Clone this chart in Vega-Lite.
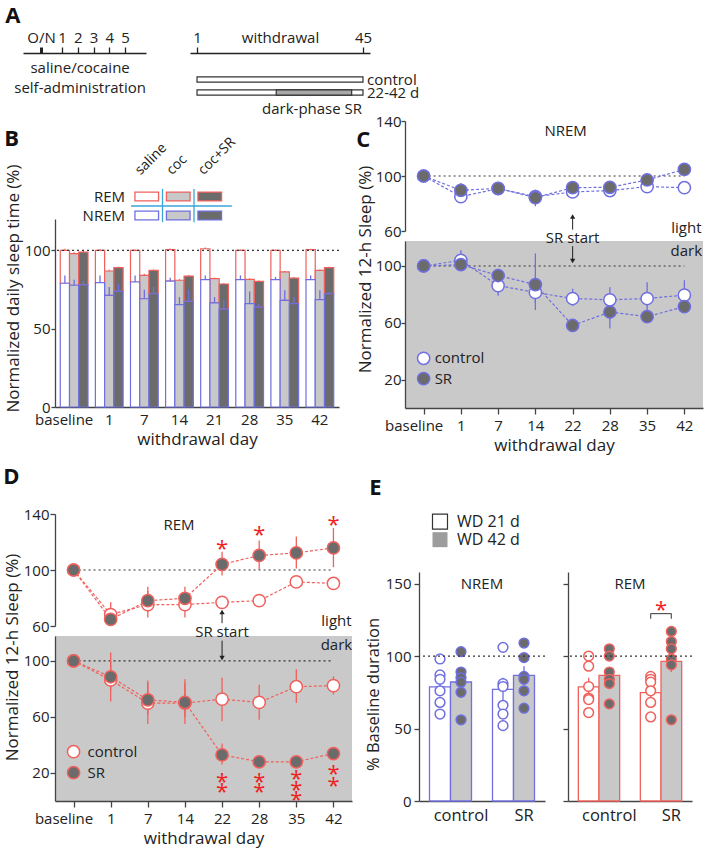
{
  "$schema": "https://vega.github.io/schema/vega-lite/v6.json",
  "background": "white",
  "padding": {"left": 3, "top": 5, "right": 2, "bottom": 2},
  "config": {
    "font": "Open Sans",
    "view": {"stroke": null},
    "axis": {"labelFont": "Open Sans", "titleFont": "Open Sans", "labelFontSize": 15, "titleFontSize": 17, "titleFontWeight": "normal", "labelColor": "#222", "titleColor": "#222", "domainColor": "#444", "tickColor": "#444", "domainWidth": 1.3, "tickWidth": 1.3, "tickSize": 5, "grid": false, "labelPadding": 3, "titlePadding": 4},
    "title": {"font": "Open Sans", "fontSize": 22, "fontWeight": "bold", "anchor": "start", "color": "#111"},
    "text": {"font": "Open Sans", "fontSize": 15, "color": "#222"}
  },
  "datasets": {
    "b": [
      {"day":"baseline","trt":"saline","nrem":79,"nrem_hi":84,"tot":100,"tot_hi":101},
      {"day":"baseline","trt":"coc","nrem":77.7,"nrem_hi":81.3,"tot":97.9,"tot_hi":98.7},
      {"day":"baseline","trt":"coc+SR","nrem":78,"nrem_hi":80.6,"tot":98.9,"tot_hi":99.6},
      {"day":"1","trt":"saline","nrem":79.4,"nrem_hi":84,"tot":100,"tot_hi":100.8},
      {"day":"1","trt":"coc","nrem":71.3,"nrem_hi":76.6,"tot":86.8,"tot_hi":87.6},
      {"day":"1","trt":"coc+SR","nrem":73.8,"nrem_hi":78.7,"tot":88.9,"tot_hi":89.6},
      {"day":"7","trt":"saline","nrem":79.8,"nrem_hi":84,"tot":100,"tot_hi":100.6},
      {"day":"7","trt":"coc","nrem":69.1,"nrem_hi":74.9,"tot":84,"tot_hi":85},
      {"day":"7","trt":"coc+SR","nrem":72.3,"nrem_hi":76.6,"tot":87.2,"tot_hi":87.8},
      {"day":"14","trt":"saline","nrem":80.4,"nrem_hi":82.5,"tot":100.4,"tot_hi":101.2},
      {"day":"14","trt":"coc","nrem":65.3,"nrem_hi":70.2,"tot":80.9,"tot_hi":81.6},
      {"day":"14","trt":"coc+SR","nrem":67.4,"nrem_hi":74.9,"tot":83.6,"tot_hi":84.2},
      {"day":"21","trt":"saline","nrem":81.3,"nrem_hi":84,"tot":101,"tot_hi":101.8},
      {"day":"21","trt":"coc","nrem":66.4,"nrem_hi":70.2,"tot":81.9,"tot_hi":82.6},
      {"day":"21","trt":"coc+SR","nrem":62.5,"nrem_hi":68.1,"tot":78.5,"tot_hi":79},
      {"day":"28","trt":"saline","nrem":81.3,"nrem_hi":84,"tot":100,"tot_hi":100.6},
      {"day":"28","trt":"coc","nrem":66,"nrem_hi":73.8,"tot":81.5,"tot_hi":82.2},
      {"day":"28","trt":"coc+SR","nrem":63.8,"nrem_hi":66,"tot":80.2,"tot_hi":80.8},
      {"day":"35","trt":"saline","nrem":81.3,"nrem_hi":83,"tot":100,"tot_hi":100.5},
      {"day":"35","trt":"coc","nrem":68.1,"nrem_hi":74.5,"tot":86.2,"tot_hi":86.8},
      {"day":"35","trt":"coc+SR","nrem":66,"nrem_hi":70.2,"tot":82.3,"tot_hi":83},
      {"day":"42","trt":"saline","nrem":81.3,"nrem_hi":84,"tot":100.4,"tot_hi":101},
      {"day":"42","trt":"coc","nrem":68.5,"nrem_hi":74.5,"tot":87.2,"tot_hi":87.8},
      {"day":"42","trt":"coc+SR","nrem":72.3,"nrem_hi":73.4,"tot":88.9,"tot_hi":89.5}
    ],
    "bleg": [
      {"stage":"REM","trt":"saline"},{"stage":"REM","trt":"coc"},{"stage":"REM","trt":"coc+SR"},
      {"stage":"NREM","trt":"saline"},{"stage":"NREM","trt":"coc"},{"stage":"NREM","trt":"coc+SR"}
    ],
    "cd": [
      {"panel":"C","phase":"light","group":"control","day":"baseline","v":100,"lo":100,"hi":100},
      {"panel":"C","phase":"light","group":"control","day":"1","v":85,"lo":82,"hi":89},
      {"panel":"C","phase":"light","group":"control","day":"7","v":90.8,"lo":88,"hi":93.5},
      {"panel":"C","phase":"light","group":"control","day":"14","v":85,"lo":81.5,"hi":89},
      {"panel":"C","phase":"light","group":"control","day":"22","v":88.4,"lo":85,"hi":91.5},
      {"panel":"C","phase":"light","group":"control","day":"28","v":89.4,"lo":86.5,"hi":92},
      {"panel":"C","phase":"light","group":"control","day":"35","v":92.3,"lo":88.5,"hi":95.5},
      {"panel":"C","phase":"light","group":"control","day":"42","v":91.5,"lo":87.5,"hi":94.5},
      {"panel":"C","phase":"light","group":"SR","day":"baseline","v":100,"lo":100,"hi":100},
      {"panel":"C","phase":"light","group":"SR","day":"1","v":89.6,"lo":86,"hi":95},
      {"panel":"C","phase":"light","group":"SR","day":"7","v":91,"lo":88,"hi":94},
      {"panel":"C","phase":"light","group":"SR","day":"14","v":84.3,"lo":78,"hi":90},
      {"panel":"C","phase":"light","group":"SR","day":"22","v":91.5,"lo":87.5,"hi":96},
      {"panel":"C","phase":"light","group":"SR","day":"28","v":91.8,"lo":89,"hi":94.5},
      {"panel":"C","phase":"light","group":"SR","day":"35","v":97.1,"lo":93,"hi":101},
      {"panel":"C","phase":"light","group":"SR","day":"42","v":104.8,"lo":101,"hi":108},
      {"panel":"C","phase":"dark","group":"control","day":"baseline","v":100,"lo":100,"hi":100},
      {"panel":"C","phase":"dark","group":"control","day":"1","v":104,"lo":98,"hi":111},
      {"panel":"C","phase":"dark","group":"control","day":"7","v":86.2,"lo":79,"hi":93},
      {"panel":"C","phase":"dark","group":"control","day":"14","v":81.4,"lo":69,"hi":92},
      {"panel":"C","phase":"dark","group":"control","day":"22","v":77.1,"lo":72,"hi":84},
      {"panel":"C","phase":"dark","group":"control","day":"28","v":76.2,"lo":71,"hi":85},
      {"panel":"C","phase":"dark","group":"control","day":"35","v":77.1,"lo":66,"hi":88.6},
      {"panel":"C","phase":"dark","group":"control","day":"42","v":79.5,"lo":70,"hi":90},
      {"panel":"C","phase":"dark","group":"SR","day":"baseline","v":100,"lo":100,"hi":100},
      {"panel":"C","phase":"dark","group":"SR","day":"1","v":101,"lo":98,"hi":104},
      {"panel":"C","phase":"dark","group":"SR","day":"7","v":93.3,"lo":88,"hi":98},
      {"panel":"C","phase":"dark","group":"SR","day":"14","v":86.9,"lo":74,"hi":108.8},
      {"panel":"C","phase":"dark","group":"SR","day":"22","v":58.1,"lo":56,"hi":60},
      {"panel":"C","phase":"dark","group":"SR","day":"28","v":67.6,"lo":56,"hi":79},
      {"panel":"C","phase":"dark","group":"SR","day":"35","v":64.3,"lo":60,"hi":69},
      {"panel":"C","phase":"dark","group":"SR","day":"42","v":71.4,"lo":67,"hi":75},
      {"panel":"D","phase":"light","group":"control","day":"baseline","v":100,"lo":100,"hi":100},
      {"panel":"D","phase":"light","group":"control","day":"1","v":68.2,"lo":63,"hi":77},
      {"panel":"D","phase":"light","group":"control","day":"7","v":75.3,"lo":66,"hi":85},
      {"panel":"D","phase":"light","group":"control","day":"14","v":75.3,"lo":66,"hi":84},
      {"panel":"D","phase":"light","group":"control","day":"22","v":76.9,"lo":74,"hi":80},
      {"panel":"D","phase":"light","group":"control","day":"28","v":78.1,"lo":75,"hi":81},
      {"panel":"D","phase":"light","group":"control","day":"35","v":91.5,"lo":89,"hi":94},
      {"panel":"D","phase":"light","group":"control","day":"42","v":90.4,"lo":88,"hi":93},
      {"panel":"D","phase":"light","group":"SR","day":"baseline","v":100,"lo":100,"hi":100},
      {"panel":"D","phase":"light","group":"SR","day":"1","v":64.7,"lo":62,"hi":68},
      {"panel":"D","phase":"light","group":"SR","day":"7","v":78.1,"lo":70,"hi":88},
      {"panel":"D","phase":"light","group":"SR","day":"14","v":79.8,"lo":74,"hi":88},
      {"panel":"D","phase":"light","group":"SR","day":"22","v":104,"lo":96,"hi":113},
      {"panel":"D","phase":"light","group":"SR","day":"28","v":110.4,"lo":100,"hi":121},
      {"panel":"D","phase":"light","group":"SR","day":"35","v":112.2,"lo":101,"hi":124},
      {"panel":"D","phase":"light","group":"SR","day":"42","v":115.8,"lo":102,"hi":130},
      {"panel":"D","phase":"dark","group":"control","day":"baseline","v":100,"lo":100,"hi":100},
      {"panel":"D","phase":"dark","group":"control","day":"1","v":86.4,"lo":71,"hi":100},
      {"panel":"D","phase":"dark","group":"control","day":"7","v":69.9,"lo":55,"hi":84},
      {"panel":"D","phase":"dark","group":"control","day":"14","v":69.9,"lo":55,"hi":84},
      {"panel":"D","phase":"dark","group":"control","day":"22","v":72.7,"lo":57,"hi":88},
      {"panel":"D","phase":"dark","group":"control","day":"28","v":70.4,"lo":58,"hi":83},
      {"panel":"D","phase":"dark","group":"control","day":"35","v":81.6,"lo":70,"hi":94},
      {"panel":"D","phase":"dark","group":"control","day":"42","v":82.4,"lo":76,"hi":89},
      {"panel":"D","phase":"dark","group":"SR","day":"baseline","v":100,"lo":100,"hi":100},
      {"panel":"D","phase":"dark","group":"SR","day":"1","v":88.7,"lo":80,"hi":106},
      {"panel":"D","phase":"dark","group":"SR","day":"7","v":72.2,"lo":62,"hi":86},
      {"panel":"D","phase":"dark","group":"SR","day":"14","v":70.4,"lo":60,"hi":87},
      {"panel":"D","phase":"dark","group":"SR","day":"22","v":32.9,"lo":26,"hi":41},
      {"panel":"D","phase":"dark","group":"SR","day":"28","v":28,"lo":26,"hi":30},
      {"panel":"D","phase":"dark","group":"SR","day":"35","v":28,"lo":26,"hi":30},
      {"panel":"D","phase":"dark","group":"SR","day":"42","v":33.9,"lo":31,"hi":37}
    ],
    "stars": [
      {"phase":"light","day":"22","v":118.8},
      {"phase":"light","day":"28","v":128.7},
      {"phase":"light","day":"42","v":135.8},
      {"phase":"dark","day":"22","v":16.9},
      {"phase":"dark","day":"22","v":9.9},
      {"phase":"dark","day":"28","v":16.9},
      {"phase":"dark","day":"28","v":9.9},
      {"phase":"dark","day":"35","v":19.3},
      {"phase":"dark","day":"35","v":11.5},
      {"phase":"dark","day":"35","v":4},
      {"phase":"dark","day":"42","v":22.8},
      {"phase":"dark","day":"42","v":14.6}
    ],
    "ebar": [
      {"stage":"NREM","slot":"control-21","mean":78.7,"lo":73,"hi":84},
      {"stage":"NREM","slot":"control-42","mean":82.1,"lo":76,"hi":88},
      {"stage":"NREM","slot":"SR-21","mean":77,"lo":69,"hi":85},
      {"stage":"NREM","slot":"SR-42","mean":86.7,"lo":80,"hi":93},
      {"stage":"REM","slot":"control-21","mean":78.7,"lo":73,"hi":85},
      {"stage":"REM","slot":"control-42","mean":86.7,"lo":81,"hi":92},
      {"stage":"REM","slot":"SR-21","mean":74.8,"lo":70,"hi":80},
      {"stage":"REM","slot":"SR-42","mean":96.4,"lo":89,"hi":104}
    ],
    "edot": [
      {"stage":"NREM","slot":"control-21","v":98},{"stage":"NREM","slot":"control-21","v":87},{"stage":"NREM","slot":"control-21","v":84},
      {"stage":"NREM","slot":"control-21","v":76},{"stage":"NREM","slot":"control-21","v":68},{"stage":"NREM","slot":"control-21","v":60},
      {"stage":"NREM","slot":"control-42","v":103},{"stage":"NREM","slot":"control-42","v":89},{"stage":"NREM","slot":"control-42","v":85},
      {"stage":"NREM","slot":"control-42","v":82},{"stage":"NREM","slot":"control-42","v":75},{"stage":"NREM","slot":"control-42","v":56},
      {"stage":"NREM","slot":"SR-21","v":106},{"stage":"NREM","slot":"SR-21","v":81},{"stage":"NREM","slot":"SR-21","v":79},
      {"stage":"NREM","slot":"SR-21","v":66},{"stage":"NREM","slot":"SR-21","v":60},{"stage":"NREM","slot":"SR-21","v":52},
      {"stage":"NREM","slot":"SR-42","v":109},{"stage":"NREM","slot":"SR-42","v":99},{"stage":"NREM","slot":"SR-42","v":86},
      {"stage":"NREM","slot":"SR-42","v":84},{"stage":"NREM","slot":"SR-42","v":76},{"stage":"NREM","slot":"SR-42","v":64},
      {"stage":"REM","slot":"control-21","v":100},{"stage":"REM","slot":"control-21","v":93},{"stage":"REM","slot":"control-21","v":79},
      {"stage":"REM","slot":"control-21","v":71},{"stage":"REM","slot":"control-21","v":70},{"stage":"REM","slot":"control-21","v":61},
      {"stage":"REM","slot":"control-42","v":105},{"stage":"REM","slot":"control-42","v":100},{"stage":"REM","slot":"control-42","v":89},
      {"stage":"REM","slot":"control-42","v":84},{"stage":"REM","slot":"control-42","v":81},{"stage":"REM","slot":"control-42","v":67},
      {"stage":"REM","slot":"SR-21","v":86},{"stage":"REM","slot":"SR-21","v":84},{"stage":"REM","slot":"SR-21","v":82},
      {"stage":"REM","slot":"SR-21","v":76},{"stage":"REM","slot":"SR-21","v":68},{"stage":"REM","slot":"SR-21","v":58},
      {"stage":"REM","slot":"SR-42","v":117},{"stage":"REM","slot":"SR-42","v":110},{"stage":"REM","slot":"SR-42","v":105},
      {"stage":"REM","slot":"SR-42","v":98},{"stage":"REM","slot":"SR-42","v":94},{"stage":"REM","slot":"SR-42","v":56}
    ]
  },
  "columns": 1,
  "align": "none",
  "spacing": -3,
  "concat": [
    {
      "title": {"text": "A", "dx": -9, "offset": 2},
      "spacing": 12,
      "hconcat": [
        {
          "width": 91, "height": 45,
          "data": {"values": [{"line": "saline/cocaine"}, {"line": "self-administration"}]},
          "mark": {"type": "text", "fontSize": 15, "baseline": "middle"},
          "encoding": {
            "x": {"datum": 2.15, "type": "quantitative", "scale": {"domain": [-1.476, 6.333], "range": [-32, 91], "nice": false, "zero": false},
                  "axis": {"orient": "top", "values": [-0.333, 1, 2, 3, 4, 5], "labelOverlap": false, "labelExpr": "datum.value < 0 ? 'O/N' : datum.label", "title": null, "tickSize": 6, "tickColor": "#222", "domainColor": "#222", "tickWidth": {"condition": {"test": "datum.value < 0", "value": 3}, "value": 1.3}, "labelPadding": 2, "domainWidth": 1.5}},
            "y": {"field": "line", "type": "nominal", "scale": {"type": "point", "domain": ["saline/cocaine", "self-administration"], "range": [15, 35], "padding": 0}, "axis": null},
            "text": {"field": "line"}
          }
        },
        {
          "width": 180, "height": 60,
          "layer": [
            {
              "data": {"values": [{"track": "control", "start": 1, "end": 45}, {"track": "22-42 d", "start": 1, "end": 45}]},
              "mark": {"type": "bar", "fill": "white", "stroke": "#333", "strokeWidth": 1.2, "height": {"band": 0.4}},
              "encoding": {
                "x": {"field": "start", "type": "quantitative", "scale": {"domain": [-0.86, 46.86], "nice": false, "zero": false},
                      "axis": {"orient": "top", "values": [1, 23, 45], "labelOverlap": false, "labelExpr": "datum.value == 23 ? 'withdrawal' : datum.label", "tickOpacity": {"condition": {"test": "datum.value == 23", "value": 0}, "value": 1}, "title": null, "tickSize": 6, "tickColor": "#222", "domainColor": "#222", "labelPadding": 2, "domainWidth": 1.5}},
                "x2": {"field": "end"},
                "y": {"field": "track", "type": "nominal", "scale": {"domain": ["control", "22-42 d"], "range": [20, 46], "paddingInner": 0, "paddingOuter": 0}, "axis": null}
              }
            },
            {
              "data": {"values": [{"track": "22-42 d", "start": 22, "end": 42}]},
              "mark": {"type": "bar", "fill": "#a8a8a8", "stroke": "#333", "strokeWidth": 1.2, "height": {"band": 0.4}},
              "encoding": {
                "x": {"field": "start", "type": "quantitative"},
                "x2": {"field": "end"},
                "y": {"field": "track", "type": "nominal"}
              }
            },
            {
              "data": {"values": [{"track": "control"}, {"track": "22-42 d"}]},
              "mark": {"type": "text", "align": "left", "baseline": "middle", "dx": 4, "fontSize": 15},
              "encoding": {
                "x": {"datum": 45, "type": "quantitative"},
                "y": {"field": "track", "type": "nominal"},
                "text": {"field": "track"}
              }
            },
            {
              "data": {"values": [{"label": "dark-phase SR"}]},
              "mark": {"type": "text", "baseline": "middle", "dy": 16, "fontSize": 15},
              "encoding": {
                "x": {"datum": 31.5, "type": "quantitative"},
                "y": {"datum": "22-42 d", "type": "nominal"},
                "text": {"field": "label"}
              }
            }
          ]
        }
      ]
    },
    {
      "spacing": 13,
      "vconcat": [
        {
          "spacing": 16,
          "hconcat": [
            {
              "title": {"text": "B", "offset": -30},
              "width": 284, "height": 286,
              "layer": [
                {
                  "layer": [
                    {
                      "data": {"name": "b"},
                      "mark": {"type": "bar", "stroke": "#f0605c", "strokeWidth": 1.2},
                      "encoding": {
                        "x": {"field": "day", "type": "ordinal", "scale": {"type": "band", "domain": ["baseline", "1", "7", "14", "21", "28", "35", "42"], "paddingInner": 0.21, "paddingOuter": 0.15},
                              "axis": {"title": "withdrawal day", "ticks": false, "labelAngle": 0, "labelPadding": 5, "labelFontSize": 15, "labelOffset": {"condition": {"test": "datum.value == 'baseline'", "value": -10}, "value": 0}}},
                        "xOffset": {"field": "trt", "type": "nominal", "scale": {"domain": ["saline", "coc", "coc+SR"]}},
                        "y": {"field": "tot", "type": "quantitative", "stack": null, "scale": {"domain": [0, 120], "range": [286, 98], "nice": false},
                              "axis": {"values": [0, 50, 100], "title": "Normalized daily sleep time (%)", "titleY": 167, "tickSize": 4, "labelPadding": 1, "titlePadding": 2}},
                        "y2": {"field": "nrem"},
                        "fill": {"condition": [{"test": "datum.trt == 'coc'", "value": "#c8c8c8"}, {"test": "datum.trt == 'coc+SR'", "value": "#6b6b6b"}], "value": "#ffffff"}
                      }
                    },
                    {
                      "data": {"name": "b"},
                      "mark": {"type": "bar", "stroke": "#6f6fe0", "strokeWidth": 1.2},
                      "encoding": {
                        "x": {"field": "day", "type": "ordinal"},
                        "xOffset": {"field": "trt", "type": "nominal"},
                        "y": {"field": "nrem", "type": "quantitative", "stack": null},
                        "fill": {"condition": [{"test": "datum.trt == 'coc'", "value": "#c8c8c8"}, {"test": "datum.trt == 'coc+SR'", "value": "#6b6b6b"}], "value": "#ffffff"}
                      }
                    },
                    {
                      "data": {"name": "b"},
                      "mark": {"type": "rule", "color": "#6f6fe0", "strokeWidth": 1.3},
                      "encoding": {
                        "x": {"field": "day", "type": "ordinal"},
                        "xOffset": {"field": "trt", "type": "nominal"},
                        "y": {"field": "nrem", "type": "quantitative"},
                        "y2": {"field": "nrem_hi"}
                      }
                    },
                    {
                      "data": {"name": "b"},
                      "mark": {"type": "rule", "color": "#f0605c", "strokeWidth": 1.3},
                      "encoding": {
                        "x": {"field": "day", "type": "ordinal"},
                        "xOffset": {"field": "trt", "type": "nominal"},
                        "y": {"field": "tot", "type": "quantitative"},
                        "y2": {"field": "tot_hi"}
                      }
                    },
                    {
                      "data": {"values": [{}]},
                      "mark": {"type": "rule", "strokeDash": [2, 3], "color": "#333", "strokeWidth": 1.2},
                      "encoding": {"y": {"datum": 100, "type": "quantitative"}}
                    }
                  ]
                },
                {
                  "layer": [
                    {
                      "data": {"name": "bleg"},
                      "mark": {"type": "bar", "strokeWidth": 1.3, "width": {"band": 0.75}, "height": {"band": 0.47}},
                      "encoding": {
                        "x": {"field": "trt", "type": "nominal", "scale": {"type": "band", "domain": ["saline", "coc", "coc+SR"], "range": [76, 170.5], "paddingInner": 0, "paddingOuter": 0}, "axis": null},
                        "y": {"field": "stage", "type": "nominal", "scale": {"type": "band", "domain": ["REM", "NREM"], "range": [66, 104], "paddingInner": 0, "paddingOuter": 0}, "axis": null},
                        "fill": {"condition": [{"test": "datum.trt == 'coc'", "value": "#c8c8c8"}, {"test": "datum.trt == 'coc+SR'", "value": "#6b6b6b"}], "value": "#ffffff"},
                        "stroke": {"condition": {"test": "datum.stage == 'REM'", "value": "#f0605c"}, "value": "#6f6fe0"}
                      }
                    },
                    {
                      "data": {"values": [{"stage": "REM"}, {"stage": "NREM"}]},
                      "mark": {"type": "text", "align": "right", "baseline": "middle", "dx": -6, "fontSize": 15},
                      "encoding": {
                        "x": {"datum": "saline", "type": "nominal", "bandPosition": 0},
                        "y": {"field": "stage", "type": "nominal"},
                        "text": {"field": "stage"}
                      }
                    },
                    {
                      "data": {"values": [{"trt": "saline"}, {"trt": "coc"}, {"trt": "coc+SR"}]},
                      "mark": {"type": "text", "align": "left", "baseline": "alphabetic", "angle": -45, "fontSize": 14},
                      "encoding": {
                        "x": {"field": "trt", "type": "nominal", "bandPosition": 0.3},
                        "y": {"datum": "REM", "type": "nominal", "bandPosition": -0.6},
                        "text": {"field": "trt"}
                      }
                    },
                    {
                      "data": {"values": [{}]},
                      "mark": {"type": "rule", "color": "#3aa6d8", "strokeWidth": 1.3},
                      "encoding": {
                        "x": {"datum": "saline", "type": "nominal", "bandPosition": 0},
                        "x2": {"datum": "coc+SR", "bandPosition": 1.2},
                        "y": {"datum": "NREM", "type": "nominal", "bandPosition": 0}
                      }
                    },
                    {
                      "data": {"values": [{"trt": "coc"}, {"trt": "coc+SR"}]},
                      "mark": {"type": "rule", "color": "#3aa6d8", "strokeWidth": 1.3},
                      "encoding": {
                        "x": {"field": "trt", "type": "nominal", "bandPosition": 0},
                        "y": {"datum": "REM", "type": "nominal", "bandPosition": 0.1},
                        "y2": {"datum": "NREM", "bandPosition": 0.85}
                      }
                    }
                  ]
                }
              ],
              "resolve": {"scale": {"x": "independent", "y": "independent"}}
            },
            {
              "title": {"text": "C", "offset": -38},
              "spacing": 10,
              "bounds": "flush",
              "vconcat": [
                {
                  "width": 298, "height": 110,
                  "layer": [
                    {
                      "data": {"values": [{}]},
                      "mark": {"type": "rule", "strokeDash": [2, 3], "color": "#333", "strokeWidth": 1.2},
                      "encoding": {
                        "x": {"datum": "baseline", "type": "ordinal", "scale": {"type": "point", "domain": ["baseline", "1", "7", "14", "22", "28", "35", "42"], "padding": 0.5}, "axis": null},
                        "x2": {"datum": "42"},
                        "y": {"datum": 100, "type": "quantitative", "scale": {"domain": [60, 140], "nice": false, "zero": false}, "axis": {"values": [60, 100, 140], "title": "Normalized 12-h Sleep (%)", "titleY": 148, "tickSize": 4, "labelPadding": 0, "titlePadding": 1}}
                      }
                    },
                    {
                      "data": {"name": "cd"},
                      "transform": [{"filter": "datum.panel == 'C' && datum.phase == 'light'"}],
                      "mark": {"type": "rule", "color": "#6f6fe0", "strokeWidth": 1.3},
                      "encoding": {"x": {"field": "day", "type": "ordinal"}, "y": {"field": "lo", "type": "quantitative"}, "y2": {"field": "hi"}}
                    },
                    {
                      "data": {"name": "cd"},
                      "transform": [{"filter": "datum.panel == 'C' && datum.phase == 'light'"}],
                      "mark": {"type": "line", "strokeDash": [3, 2], "strokeWidth": 1.2, "color": "#6f6fe0"},
                      "encoding": {"x": {"field": "day", "type": "ordinal"}, "y": {"field": "v", "type": "quantitative"}, "detail": {"field": "group"}, "order": {"value": null}}
                    },
                    {
                      "data": {"name": "cd"},
                      "transform": [{"filter": "datum.panel == 'C' && datum.phase == 'light'"}],
                      "mark": {"type": "point", "shape": "circle", "size": 150, "filled": true, "opacity": 1, "stroke": "#6f6fe0", "strokeWidth": 1.5},
                      "encoding": {"x": {"field": "day", "type": "ordinal"}, "y": {"field": "v", "type": "quantitative"}, "fill": {"condition": {"test": "datum.group == 'SR'", "value": "#6b6b6b"}, "value": "#ffffff"}}
                    },
                    {
                      "data": {"values": [{}]},
                      "mark": {"type": "rule", "color": "#222", "strokeWidth": 1},
                      "encoding": {"x": {"datum": "22", "type": "ordinal"}, "y": {"datum": 61, "type": "quantitative"}, "y2": {"datum": 69.5}}
                    },
                    {
                      "data": {"values": [{}]},
                      "mark": {"type": "point", "shape": "triangle-up", "size": 28, "filled": true, "opacity": 1, "color": "#222"},
                      "encoding": {"x": {"datum": "22", "type": "ordinal"}, "y": {"datum": 70.5, "type": "quantitative"}}
                    },
                    {
                      "data": {"values": [{"t": "NREM"}]},
                      "mark": {"type": "text", "fontSize": 15, "baseline": "middle", "dx": -7},
                      "encoding": {"x": {"datum": "22", "type": "ordinal"}, "y": {"datum": 132.4, "type": "quantitative"}, "text": {"field": "t"}}
                    },
                    {
                      "data": {"values": [{"t": "light"}]},
                      "mark": {"type": "text", "fontSize": 15, "baseline": "middle", "dx": 2},
                      "encoding": {"x": {"datum": "42", "type": "ordinal"}, "y": {"datum": 62.3, "type": "quantitative"}, "text": {"field": "t"}}
                    }
                  ]
                },
                {
                  "width": 298, "height": 167,
                  "view": {"fill": "#c9c9c9", "stroke": null},
                  "layer": [
                    {
                      "data": {"values": [{}]},
                      "mark": {"type": "rule", "strokeDash": [2, 3], "color": "#333", "strokeWidth": 1.2},
                      "encoding": {
                        "x": {"datum": "baseline", "type": "ordinal", "scale": {"type": "point", "domain": ["baseline", "1", "7", "14", "22", "28", "35", "42"], "padding": 0.5}, "axis": {"title": "withdrawal day", "labelAngle": 0, "tickSize": 6, "labelPadding": 4, "titlePadding": 4, "labelOffset": {"condition": {"test": "datum.value == 'baseline'", "value": -10}, "value": 0}}},
                        "x2": {"datum": "42"},
                        "y": {"datum": 100, "type": "quantitative", "scale": {"domain": [0, 117.6], "nice": false, "zero": false}, "axis": {"values": [20, 60, 100], "title": null, "tickSize": 4, "labelPadding": 0}}
                      }
                    },
                    {
                      "data": {"name": "cd"},
                      "transform": [{"filter": "datum.panel == 'C' && datum.phase == 'dark'"}],
                      "mark": {"type": "rule", "color": "#6f6fe0", "strokeWidth": 1.3},
                      "encoding": {"x": {"field": "day", "type": "ordinal"}, "y": {"field": "lo", "type": "quantitative"}, "y2": {"field": "hi"}}
                    },
                    {
                      "data": {"name": "cd"},
                      "transform": [{"filter": "datum.panel == 'C' && datum.phase == 'dark'"}],
                      "mark": {"type": "line", "strokeDash": [3, 2], "strokeWidth": 1.2, "color": "#6f6fe0"},
                      "encoding": {"x": {"field": "day", "type": "ordinal"}, "y": {"field": "v", "type": "quantitative"}, "detail": {"field": "group"}, "order": {"value": null}}
                    },
                    {
                      "data": {"name": "cd"},
                      "transform": [{"filter": "datum.panel == 'C' && datum.phase == 'dark'"}],
                      "mark": {"type": "point", "shape": "circle", "size": 150, "filled": true, "opacity": 1, "stroke": "#6f6fe0", "strokeWidth": 1.5},
                      "encoding": {"x": {"field": "day", "type": "ordinal"}, "y": {"field": "v", "type": "quantitative"}, "fill": {"condition": {"test": "datum.group == 'SR'", "value": "#6b6b6b"}, "value": "#ffffff"}}
                    },
                    {
                      "data": {"values": [{}]},
                      "mark": {"type": "rule", "color": "#222", "strokeWidth": 1},
                      "encoding": {"x": {"datum": "22", "type": "ordinal"}, "y": {"datum": 114, "type": "quantitative"}, "y2": {"datum": 104.5}}
                    },
                    {
                      "data": {"values": [{}]},
                      "mark": {"type": "point", "shape": "triangle-down", "size": 28, "filled": true, "opacity": 1, "color": "#222"},
                      "encoding": {"x": {"datum": "22", "type": "ordinal"}, "y": {"datum": 103.5, "type": "quantitative"}}
                    },
                    {
                      "data": {"values": [{"t": "SR start"}]},
                      "mark": {"type": "text", "fontSize": 15, "baseline": "middle"},
                      "encoding": {"x": {"datum": "22", "type": "ordinal"}, "y": {"datum": 119.5, "type": "quantitative"}, "text": {"field": "t"}}
                    },
                    {
                      "data": {"values": [{"t": "dark"}]},
                      "mark": {"type": "text", "fontSize": 15, "baseline": "middle", "dx": 2},
                      "encoding": {"x": {"datum": "42", "type": "ordinal"}, "y": {"datum": 110.9, "type": "quantitative"}, "text": {"field": "t"}}
                    },
                    {
                      "data": {"values": [{}]},
                      "mark": {"type": "point", "shape": "circle", "size": 150, "filled": true, "opacity": 1, "fill": "#ffffff", "stroke": "#6f6fe0", "strokeWidth": 1.5},
                      "encoding": {"x": {"datum": "baseline", "type": "ordinal"}, "y": {"datum": 35, "type": "quantitative"}}
                    },
                    {
                      "data": {"values": [{}]},
                      "mark": {"type": "point", "shape": "circle", "size": 150, "filled": true, "opacity": 1, "fill": "#6b6b6b", "stroke": "#6f6fe0", "strokeWidth": 1.5},
                      "encoding": {"x": {"datum": "baseline", "type": "ordinal"}, "y": {"datum": 20.7, "type": "quantitative"}}
                    },
                    {
                      "data": {"values": [{"t": "control", "v": 35}, {"t": "SR", "v": 20.7}]},
                      "mark": {"type": "text", "fontSize": 15, "baseline": "middle", "align": "left", "dx": 11},
                      "encoding": {"x": {"datum": "baseline", "type": "ordinal"}, "y": {"field": "v", "type": "quantitative"}, "text": {"field": "t"}}
                    }
                  ]
                }
              ]
            }
          ]
        },
        {
          "spacing": 12,
          "hconcat": [
            {
              "title": {"text": "D", "offset": 18},
              "spacing": 10,
              "bounds": "flush",
              "vconcat": [
                {
                  "width": 297, "height": 112,
                  "layer": [
                    {
                      "data": {"values": [{}]},
                      "mark": {"type": "rule", "strokeDash": [2, 3], "color": "#333", "strokeWidth": 1.2},
                      "encoding": {
                        "x": {"datum": "baseline", "type": "ordinal", "scale": {"type": "point", "domain": ["baseline", "1", "7", "14", "22", "28", "35", "42"], "padding": 0.5}, "axis": null},
                        "x2": {"datum": "42"},
                        "y": {"datum": 100, "type": "quantitative", "scale": {"domain": [60, 140], "nice": false, "zero": false}, "axis": {"values": [60, 100, 140], "title": "Normalized 12-h Sleep (%)", "titleY": 143, "labelPadding": 1, "titlePadding": 2}}
                      }
                    },
                    {
                      "data": {"name": "cd"},
                      "transform": [{"filter": "datum.panel == 'D' && datum.phase == 'light'"}],
                      "mark": {"type": "rule", "color": "#f0605c", "strokeWidth": 1.3},
                      "encoding": {"x": {"field": "day", "type": "ordinal"}, "y": {"field": "lo", "type": "quantitative"}, "y2": {"field": "hi"}}
                    },
                    {
                      "data": {"name": "cd"},
                      "transform": [{"filter": "datum.panel == 'D' && datum.phase == 'light'"}],
                      "mark": {"type": "line", "strokeDash": [3, 2], "strokeWidth": 1.2, "color": "#f0605c"},
                      "encoding": {"x": {"field": "day", "type": "ordinal"}, "y": {"field": "v", "type": "quantitative"}, "detail": {"field": "group"}, "order": {"value": null}}
                    },
                    {
                      "data": {"name": "cd"},
                      "transform": [{"filter": "datum.panel == 'D' && datum.phase == 'light'"}],
                      "mark": {"type": "point", "shape": "circle", "size": 150, "filled": true, "opacity": 1, "stroke": "#f0605c", "strokeWidth": 1.5},
                      "encoding": {"x": {"field": "day", "type": "ordinal"}, "y": {"field": "v", "type": "quantitative"}, "fill": {"condition": {"test": "datum.group == 'SR'", "value": "#6b6b6b"}, "value": "#ffffff"}}
                    },
                    {
                      "data": {"name": "stars"},
                      "transform": [{"filter": "datum.phase == 'light'"}],
                      "mark": {"type": "text", "text": "*", "fontSize": 22, "color": "#f02020", "baseline": "alphabetic", "dy": 12},
                      "encoding": {"x": {"field": "day", "type": "ordinal"}, "y": {"field": "v", "type": "quantitative"}}
                    },
                    {
                      "data": {"values": [{}]},
                      "mark": {"type": "rule", "color": "#222", "strokeWidth": 1},
                      "encoding": {"x": {"datum": "22", "type": "ordinal"}, "y": {"datum": 62, "type": "quantitative"}, "y2": {"datum": 69}}
                    },
                    {
                      "data": {"values": [{}]},
                      "mark": {"type": "point", "shape": "triangle-up", "size": 28, "filled": true, "opacity": 1, "color": "#222"},
                      "encoding": {"x": {"datum": "22", "type": "ordinal"}, "y": {"datum": 70, "type": "quantitative"}}
                    },
                    {
                      "data": {"values": [{"t": "REM"}]},
                      "mark": {"type": "text", "fontSize": 15, "baseline": "middle", "dx": -6},
                      "encoding": {"x": {"datum": "14", "type": "ordinal"}, "y": {"datum": 132, "type": "quantitative"}, "text": {"field": "t"}}
                    },
                    {
                      "data": {"values": [{"t": "light"}]},
                      "mark": {"type": "text", "fontSize": 15, "baseline": "middle", "dx": 3},
                      "encoding": {"x": {"datum": "42", "type": "ordinal"}, "y": {"datum": 63.3, "type": "quantitative"}, "text": {"field": "t"}}
                    }
                  ]
                },
                {
                  "width": 297, "height": 165,
                  "view": {"fill": "#c9c9c9", "stroke": null},
                  "layer": [
                    {
                      "data": {"values": [{}]},
                      "mark": {"type": "rule", "strokeDash": [2, 3], "color": "#333", "strokeWidth": 1.2},
                      "encoding": {
                        "x": {"datum": "baseline", "type": "ordinal", "scale": {"type": "point", "domain": ["baseline", "1", "7", "14", "22", "28", "35", "42"], "padding": 0.5}, "axis": {"title": "withdrawal day", "labelAngle": 0, "tickSize": 6, "labelPadding": 4, "titlePadding": 4, "labelOffset": {"condition": {"test": "datum.value == 'baseline'", "value": -10}, "value": 0}}},
                        "x2": {"datum": "42"},
                        "y": {"datum": 100, "type": "quantitative", "scale": {"domain": [0, 117.8], "nice": false, "zero": false}, "axis": {"values": [20, 60, 100], "title": null, "labelPadding": 1}}
                      }
                    },
                    {
                      "data": {"name": "cd"},
                      "transform": [{"filter": "datum.panel == 'D' && datum.phase == 'dark'"}],
                      "mark": {"type": "rule", "color": "#f0605c", "strokeWidth": 1.3},
                      "encoding": {"x": {"field": "day", "type": "ordinal"}, "y": {"field": "lo", "type": "quantitative"}, "y2": {"field": "hi"}}
                    },
                    {
                      "data": {"name": "cd"},
                      "transform": [{"filter": "datum.panel == 'D' && datum.phase == 'dark'"}],
                      "mark": {"type": "line", "strokeDash": [3, 2], "strokeWidth": 1.2, "color": "#f0605c"},
                      "encoding": {"x": {"field": "day", "type": "ordinal"}, "y": {"field": "v", "type": "quantitative"}, "detail": {"field": "group"}, "order": {"value": null}}
                    },
                    {
                      "data": {"name": "cd"},
                      "transform": [{"filter": "datum.panel == 'D' && datum.phase == 'dark'"}],
                      "mark": {"type": "point", "shape": "circle", "size": 150, "filled": true, "opacity": 1, "stroke": "#f0605c", "strokeWidth": 1.5},
                      "encoding": {"x": {"field": "day", "type": "ordinal"}, "y": {"field": "v", "type": "quantitative"}, "fill": {"condition": {"test": "datum.group == 'SR'", "value": "#6b6b6b"}, "value": "#ffffff"}}
                    },
                    {
                      "data": {"name": "stars"},
                      "transform": [{"filter": "datum.phase == 'dark'"}],
                      "mark": {"type": "text", "text": "*", "fontSize": 22, "color": "#f02020", "baseline": "alphabetic", "dy": 12},
                      "encoding": {"x": {"field": "day", "type": "ordinal"}, "y": {"field": "v", "type": "quantitative"}}
                    },
                    {
                      "data": {"values": [{}]},
                      "mark": {"type": "rule", "color": "#222", "strokeWidth": 1},
                      "encoding": {"x": {"datum": "22", "type": "ordinal"}, "y": {"datum": 114.5, "type": "quantitative"}, "y2": {"datum": 103}}
                    },
                    {
                      "data": {"values": [{}]},
                      "mark": {"type": "point", "shape": "triangle-down", "size": 28, "filled": true, "opacity": 1, "color": "#222"},
                      "encoding": {"x": {"datum": "22", "type": "ordinal"}, "y": {"datum": 102, "type": "quantitative"}}
                    },
                    {
                      "data": {"values": [{"t": "SR start"}]},
                      "mark": {"type": "text", "fontSize": 15, "baseline": "middle"},
                      "encoding": {"x": {"datum": "22", "type": "ordinal"}, "y": {"datum": 120.7, "type": "quantitative"}, "text": {"field": "t"}}
                    },
                    {
                      "data": {"values": [{"t": "dark"}]},
                      "mark": {"type": "text", "fontSize": 15, "baseline": "middle", "dx": 3},
                      "encoding": {"x": {"datum": "42", "type": "ordinal"}, "y": {"datum": 111.2, "type": "quantitative"}, "text": {"field": "t"}}
                    },
                    {
                      "data": {"values": [{}]},
                      "mark": {"type": "point", "shape": "circle", "size": 150, "filled": true, "opacity": 1, "fill": "#ffffff", "stroke": "#f0605c", "strokeWidth": 1.5},
                      "encoding": {"x": {"datum": "baseline", "type": "ordinal"}, "y": {"datum": 35.2, "type": "quantitative"}}
                    },
                    {
                      "data": {"values": [{}]},
                      "mark": {"type": "point", "shape": "circle", "size": 150, "filled": true, "opacity": 1, "fill": "#6b6b6b", "stroke": "#f0605c", "strokeWidth": 1.5},
                      "encoding": {"x": {"datum": "baseline", "type": "ordinal"}, "y": {"datum": 20.2, "type": "quantitative"}}
                    },
                    {
                      "data": {"values": [{"t": "control", "v": 35.2}, {"t": "SR", "v": 20.2}]},
                      "mark": {"type": "text", "fontSize": 15, "baseline": "middle", "align": "left", "dx": 14},
                      "encoding": {"x": {"datum": "baseline", "type": "ordinal"}, "y": {"field": "v", "type": "quantitative"}, "text": {"field": "t"}}
                    }
                  ]
                }
              ]
            },
            {
              "title": {"text": "E", "offset": 12, "dx": 4},
              "spacing": 16,
              "hconcat": [
                {
                  "width": 126, "height": 287,
                  "layer": [
                    {
                      "data": {"name": "ebar"},
                      "transform": [{"filter": "datum.stage == 'NREM'"}],
                      "mark": {"type": "bar", "stroke": "#6f6fe0", "strokeWidth": 1.3},
                      "encoding": {
                        "x": {"field": "slot", "type": "nominal", "scale": {"type": "band", "domain": ["control-21", "control-42", "gap", "SR-21", "SR-42"], "paddingInner": 0, "paddingOuter": 0.5},
                              "axis": {"values": ["control-42", "SR-42"], "bandPosition": 0, "labelExpr": "datum.value == 'control-42' ? 'control' : 'SR'", "title": null, "ticks": false, "labelAngle": 0, "labelFontSize": 16.5, "labelPadding": 6}},
                        "y": {"field": "mean", "type": "quantitative", "stack": null, "scale": {"domain": [0, 158], "range": [287, 58], "nice": false}, "axis": {"values": [0, 50, 100, 150], "title": "% Baseline duration", "titleFontSize": 16.5, "titleY": 180}},
                        "fill": {"condition": {"test": "datum.slot == 'control-42' || datum.slot == 'SR-42'", "value": "#c8c8c8"}, "value": "#ffffff"}
                      }
                    },
                    {
                      "data": {"name": "ebar"},
                      "transform": [{"filter": "datum.stage == 'NREM'"}],
                      "mark": {"type": "rule", "color": "#6f6fe0", "strokeWidth": 1.3},
                      "encoding": {"x": {"field": "slot", "type": "nominal"}, "y": {"field": "lo", "type": "quantitative"}, "y2": {"field": "hi"}}
                    },
                    {
                      "data": {"name": "edot"},
                      "transform": [{"filter": "datum.stage == 'NREM'"}],
                      "mark": {"type": "point", "shape": "circle", "size": 95, "filled": true, "opacity": 1, "stroke": "#6f6fe0", "strokeWidth": 1.5},
                      "encoding": {"x": {"field": "slot", "type": "nominal"}, "y": {"field": "v", "type": "quantitative"}, "fill": {"condition": {"test": "datum.slot == 'control-42' || datum.slot == 'SR-42'", "value": "#6b6b6b"}, "value": "#ffffff"}}
                    },
                    {
                      "data": {"values": [{}]},
                      "mark": {"type": "rule", "strokeDash": [2, 3], "color": "#333", "strokeWidth": 1.2},
                      "encoding": {"y": {"datum": 100, "type": "quantitative"}}
                    },
                    {
                      "data": {"values": [{"t": "NREM"}]},
                      "mark": {"type": "text", "fontSize": 15, "baseline": "middle"},
                      "encoding": {"y": {"datum": 150, "type": "quantitative"}, "text": {"field": "t"}}
                    },
                    {
                      "data": {"values": [{}]},
                      "mark": {"type": "point", "shape": "square", "size": 225, "filled": true, "opacity": 1, "fill": "#ffffff", "stroke": "#333333", "strokeWidth": 1.2},
                      "encoding": {"x": {"datum": "control-21", "type": "nominal"}, "y": {"datum": 192.7, "type": "quantitative"}}
                    },
                    {
                      "data": {"values": [{}]},
                      "mark": {"type": "point", "shape": "square", "size": 225, "filled": true, "opacity": 1, "fill": "#9d9d9d", "strokeWidth": 0},
                      "encoding": {"x": {"datum": "control-21", "type": "nominal"}, "y": {"datum": 180.3, "type": "quantitative"}}
                    },
                    {
                      "data": {"values": [{"t": "WD 21 d", "v": 192.7}, {"t": "WD 42 d", "v": 180.3}]},
                      "mark": {"type": "text", "fontSize": 16, "baseline": "middle", "align": "left", "dx": 17},
                      "encoding": {"x": {"datum": "control-21", "type": "nominal"}, "y": {"field": "v", "type": "quantitative"}, "text": {"field": "t"}}
                    }
                  ]
                },
                {
                  "width": 124, "height": 287,
                  "layer": [
                    {
                      "data": {"name": "ebar"},
                      "transform": [{"filter": "datum.stage == 'REM'"}],
                      "mark": {"type": "bar", "stroke": "#f0605c", "strokeWidth": 1.3},
                      "encoding": {
                        "x": {"field": "slot", "type": "nominal", "scale": {"type": "band", "domain": ["control-21", "control-42", "gap", "SR-21", "SR-42"], "paddingInner": 0, "paddingOuter": 0.5},
                              "axis": {"values": ["control-42", "SR-42"], "bandPosition": 0, "labelExpr": "datum.value == 'control-42' ? 'control' : 'SR'", "title": null, "ticks": false, "labelAngle": 0, "labelFontSize": 16.5, "labelPadding": 6}},
                        "y": {"field": "mean", "type": "quantitative", "stack": null, "scale": {"domain": [0, 158], "range": [287, 58], "nice": false}, "axis": {"values": [0, 50, 100, 150], "labels": false, "title": null}},
                        "fill": {"condition": {"test": "datum.slot == 'control-42' || datum.slot == 'SR-42'", "value": "#c8c8c8"}, "value": "#ffffff"}
                      }
                    },
                    {
                      "data": {"name": "ebar"},
                      "transform": [{"filter": "datum.stage == 'REM'"}],
                      "mark": {"type": "rule", "color": "#f0605c", "strokeWidth": 1.3},
                      "encoding": {"x": {"field": "slot", "type": "nominal"}, "y": {"field": "lo", "type": "quantitative"}, "y2": {"field": "hi"}}
                    },
                    {
                      "data": {"name": "edot"},
                      "transform": [{"filter": "datum.stage == 'REM'"}],
                      "mark": {"type": "point", "shape": "circle", "size": 95, "filled": true, "opacity": 1, "stroke": "#f0605c", "strokeWidth": 1.5},
                      "encoding": {"x": {"field": "slot", "type": "nominal"}, "y": {"field": "v", "type": "quantitative"}, "fill": {"condition": {"test": "datum.slot == 'control-42' || datum.slot == 'SR-42'", "value": "#6b6b6b"}, "value": "#ffffff"}}
                    },
                    {
                      "data": {"values": [{}]},
                      "mark": {"type": "rule", "strokeDash": [2, 3], "color": "#333", "strokeWidth": 1.2},
                      "encoding": {"y": {"datum": 100, "type": "quantitative"}}
                    },
                    {
                      "data": {"values": [{"t": "REM"}]},
                      "mark": {"type": "text", "fontSize": 15, "baseline": "middle"},
                      "encoding": {"y": {"datum": 150, "type": "quantitative"}, "text": {"field": "t"}}
                    },
                    {
                      "data": {"values": [{"slot": "SR-21"}, {"slot": "SR-42"}]},
                      "mark": {"type": "rule", "color": "#555", "strokeWidth": 1.2},
                      "encoding": {"x": {"field": "slot", "type": "nominal"}, "y": {"datum": 125.8, "type": "quantitative"}, "y2": {"datum": 129.3}}
                    },
                    {
                      "data": {"values": [{}]},
                      "mark": {"type": "rule", "color": "#555", "strokeWidth": 1.2},
                      "encoding": {"x": {"datum": "SR-21", "type": "nominal"}, "x2": {"datum": "SR-42"}, "y": {"datum": 129.3, "type": "quantitative"}}
                    },
                    {
                      "data": {"values": [{}]},
                      "mark": {"type": "text", "text": "*", "fontSize": 22, "color": "#f02020", "baseline": "alphabetic", "dy": 12},
                      "encoding": {"x": {"datum": "SR-42", "type": "nominal", "bandPosition": 0}, "y": {"datum": 135, "type": "quantitative"}}
                    }
                  ]
                }
              ]
            }
          ]
        }
      ]
    }
  ]
}
